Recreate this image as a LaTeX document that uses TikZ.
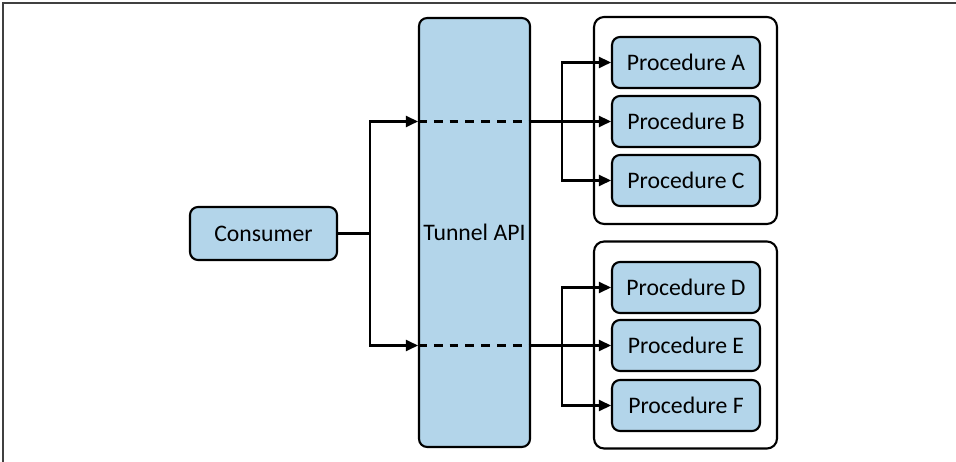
\documentclass[tikz,border=0pt]{standalone}
\usepackage{fontspec}
\setmainfont{Carlito}
\usetikzlibrary{arrows.meta}

\definecolor{boxblue}{HTML}{B3D5EA}
\tikzset{
	block/.style={draw,line width=1.2pt,fill=boxblue,rounded corners=0.16cm,font=\fontsize{13.5}{15}\selectfont,inner sep=0pt},
	proc/.style={block,minimum width=2.96cm,minimum height=1.02cm},
	group/.style={draw,line width=1.2pt,fill=white,rounded corners=0.2cm,minimum width=3.66cm,minimum height=4.14cm},
	flow/.style={line width=1.4pt,-{Triangle[length=0.24cm,width=0.22cm]}},
	link/.style={line width=1.4pt},
	tunnel/.style={line width=1.4pt,dashed,dash pattern=on 5pt off 4pt}
}

\begin{document}
\begin{tikzpicture}[x=0.02cm,y=-0.02cm]
	\useasboundingbox (0,0) rectangle (956,462);
	\draw[line width=0.8pt,black!75] (3,462)--(3,3)--(956,3);

	% tunnel and consumer
	\node[block,minimum width=2.22cm,minimum height=8.58cm] (tun) at (474.5,232.5) {Tunnel API};
	\node[block,minimum width=2.94cm,minimum height=1.06cm] (con) at (263.5,233.5) {Consumer};

	% procedure groups
	\node[group] (g1) at (685.5,120.5) {};
	\node[group] (g2) at (685.5,345) {};
	\node[proc] (pA) at (686,62.5) {Procedure A};
	\node[proc] (pB) at (686,121.5) {Procedure B};
	\node[proc] (pC) at (686,180.5) {Procedure C};
	\node[proc] (pD) at (686,287.5) {Procedure D};
	\node[proc] (pE) at (686,345.5) {Procedure E};
	\node[proc] (pF) at (686,405.5) {Procedure F};

	\coordinate (split) at (370,233.5);
	\coordinate (t1in) at (tun.west |- pB);
	\coordinate (t1out) at (tun.east |- pB);
	\coordinate (t2in) at (tun.west |- pE);
	\coordinate (t2out) at (tun.east |- pE);
	\coordinate (fork1) at (562,121.5);
	\coordinate (fork2) at (562,345.5);

	% connectors
	\draw[link] (con.east) -- (split);
	\draw[flow] (split) |- (t1in);
	\draw[flow] (split) |- (t2in);
	\draw[tunnel] (t1in) -- (t1out);
	\draw[tunnel] (t2in) -- (t2out);
	\draw[flow] (t1out) -- (pB.west);
	\draw[flow] (t2out) -- (pE.west);
	\draw[flow] (fork1) |- (pA.west);
	\draw[flow] (fork1) |- (pC.west);
	\draw[flow] (fork2) |- (pD.west);
	\draw[flow] (fork2) |- (pF.west);
\end{tikzpicture}
\end{document}
